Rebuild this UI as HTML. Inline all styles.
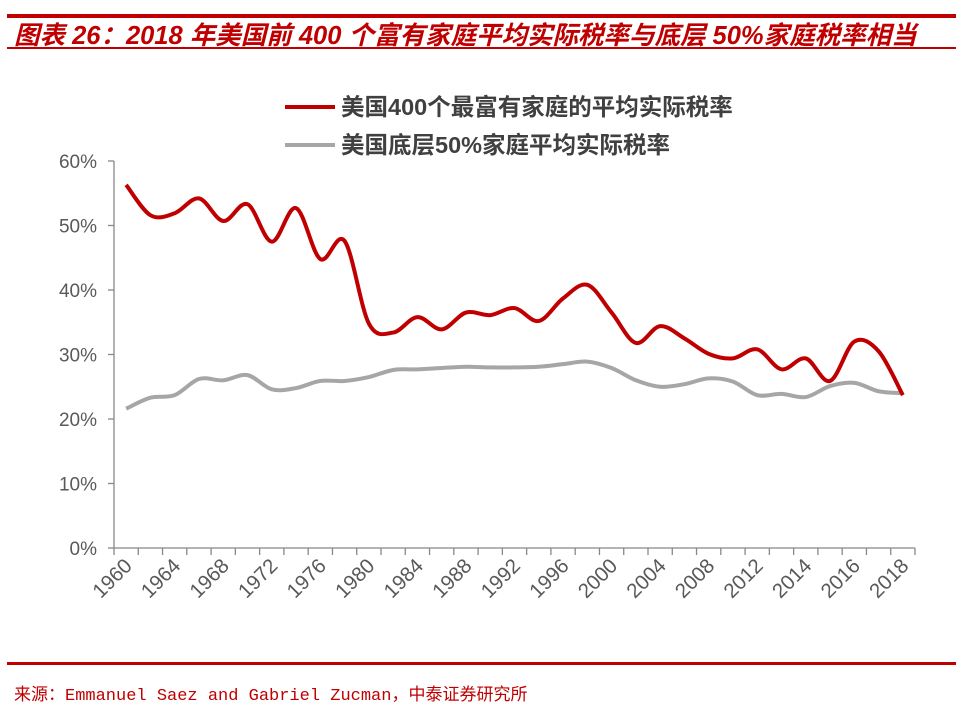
<!DOCTYPE html>
<html><head><meta charset="utf-8"><style>
body{margin:0;background:#fff;width:970px;height:712px;overflow:hidden;position:relative;font-family:"Liberation Sans","Noto Sans CJK SC",sans-serif}
.rule{position:absolute;left:7px;width:949px;background:#C00000}
</style></head><body>
<div class="rule" style="top:14px;height:4px"></div>
<div style="position:absolute;left:14px;top:21px;font-size:25.5px;line-height:30px;font-weight:bold;font-style:italic;color:#C00000;white-space:nowrap">图表 26：2018 年美国前 400 个富有家庭平均实际税率与底层 50%家庭税率相当</div>
<div class="rule" style="top:47px;height:2px"></div>
<div class="rule" style="top:662px;height:3px"></div>
<div style="position:absolute;left:14px;top:680px;font-size:17px;color:#C00000;font-family:'Liberation Mono','Noto Sans CJK SC',monospace;white-space:nowrap">来源：Emmanuel Saez and Gabriel Zucman，中泰证券研究所</div>
<svg id="chart" width="970" height="712" style="position:absolute;left:0;top:0"></svg>
<script>
const categories=["1960","1962","1964","1966","1968","1970","1972","1974","1976","1978","1980","1982","1984","1986","1988","1990","1992","1994","1996","1998","2000","2002","2004","2006","2008","2010","2012","2013","2014","2015","2016","2017","2018"];
const labelShown=["1960","1964","1968","1972","1976","1980","1984","1988","1992","1996","2000","2004","2008","2012","2014","2016","2018"];
const top400=[56.3,51.6,51.9,54.2,50.7,53.3,47.5,52.7,44.8,47.6,34.8,33.4,35.8,33.9,36.5,36.1,37.2,35.2,38.7,40.8,36.5,31.8,34.4,32.5,30.1,29.4,30.8,27.7,29.4,25.9,32.0,30.5,23.7];
const bottom50=[21.6,23.3,23.7,26.2,26.0,26.8,24.6,24.8,25.9,25.9,26.5,27.6,27.7,27.9,28.1,28.0,28.0,28.1,28.5,28.9,27.9,26.0,25.0,25.4,26.3,25.8,23.7,23.9,23.4,25.1,25.6,24.3,24.0];
const yTicks=[0,10,20,30,40,50,60];
const seriesNames=["美国400个最富有家庭的平均实际税率","美国底层50%家庭平均实际税率"];

const svg=document.getElementById('chart');const NS='http://www.w3.org/2000/svg';
const X0=114,X1=915,Y0=548,Y1=161,n=categories.length,cw=(X1-X0)/n;
const xs=i=>X0+cw*(i+0.5);
const ys=v=>Y0-(v/60)*(Y0-Y1);
function mk(t,a){const e=document.createElementNS(NS,t);for(const k in a)e.setAttribute(k,a[k]);svg.appendChild(e);return e;}
let e=mk('line',{x1:X0,y1:Y1,x2:X0,y2:Y0,stroke:'#888','stroke-width':1.3});


e=mk('line',{x1:X0,y1:Y0,x2:X1,y2:Y0,stroke:'#888','stroke-width':1.3});


yTicks.forEach(v=>{
 const t=mk('line',{x1:X0-6,y1:ys(v),x2:X0,y2:ys(v),stroke:'#888','stroke-width':1.3});
 
 
 const l=mk('text',{x:97,y:ys(v)+7,'text-anchor':'end','font-size':19,fill:'#595959'});l.textContent=v+'%';
 
 
});
for(let i=0;i<=n;i++){const x=X0+cw*i;const t=mk('line',{x1:x,y1:Y0,x2:x,y2:Y0+7,stroke:'#888','stroke-width':1.3});
 
 }
categories.forEach((c,i)=>{if(labelShown.indexOf(c)<0)return;
 const x=xs(i)+7,y=Y0+19;
 const l=mk('text',{x:x,y:y,'text-anchor':'end','font-size':20.5,fill:'#595959',transform:`rotate(-45 ${x} ${y})`});l.textContent=c;
 
 
});
function path(vals){const p=vals.map((v,i)=>[xs(i),ys(v)]);let d=`M${p[0][0]},${p[0][1]}`;
 for(let i=0;i<p.length-1;i++){const a=p[Math.max(i-1,0)],b=p[i],c=p[i+1],q=p[Math.min(i+2,p.length-1)];
 d+=`C${b[0]+(c[0]-a[0])/6},${b[1]+(c[1]-a[1])/6} ${c[0]-(q[0]-b[0])/6},${c[1]-(q[1]-b[1])/6} ${c[0]},${c[1]}`;}return d;}
e=mk('path',{d:path(bottom50),fill:'none',stroke:'#A6A6A6','stroke-width':4,'stroke-linejoin':'round'});


e=mk('path',{d:path(top400),fill:'none',stroke:'#C00000','stroke-width':4,'stroke-linejoin':'round'});


[['#C00000',107],['#A6A6A6',145]].forEach((s,k)=>{
 const l=mk('line',{x1:285,y1:s[1],x2:335,y2:s[1],stroke:s[0],'stroke-width':4});
 
 
 const t=mk('text',{x:341,y:s[1]+8,'font-size':23.5,fill:'#404040','font-weight':'bold'});t.textContent=seriesNames[k];
 
 
});
</script>
</body></html>
